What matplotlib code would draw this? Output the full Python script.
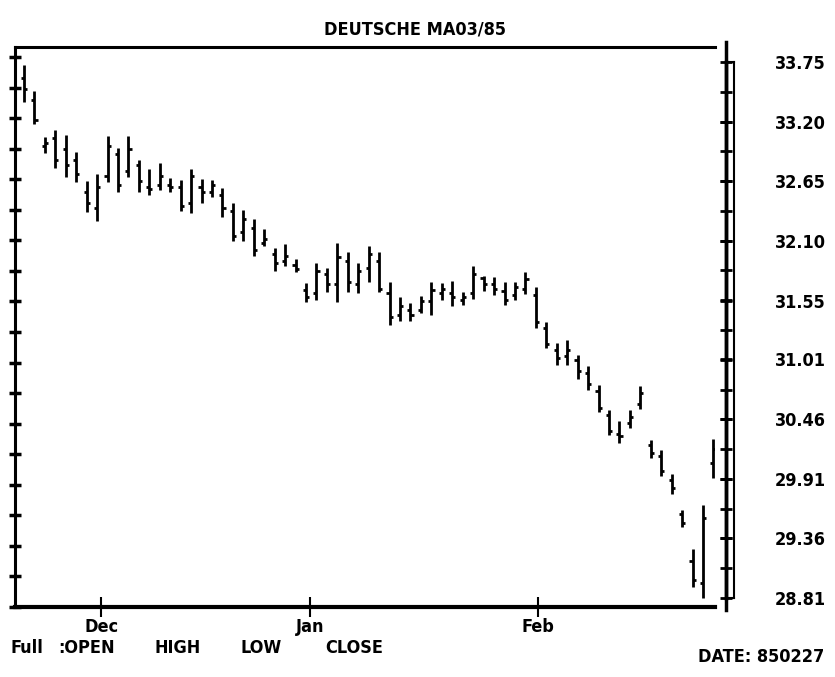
import numpy as np
import matplotlib
matplotlib.use("Agg")
import matplotlib.pyplot as plt
from matplotlib import font_manager as fm

# --- data ---
TITLE = "DEUTSCHE MA03/85"

highs = [33.72, 33.48, 33.06, 33.12, 33.08, 32.92, 32.65, 32.72, 33.07, 32.96,
         33.07, 32.85, 32.76, 32.82, 32.68, 32.66, 32.76, 32.67, 32.66, 32.59,
         32.45, 32.39, 32.30, 32.21, 32.04, 32.07, 31.93, 31.71, 31.90, 31.85,
         32.08, 32.00, 31.90, 32.05, 32.00, 31.72, 31.58, 31.53, 31.59, 31.72,
         31.71, 31.73, 31.63, 31.87, 31.78, 31.77, 31.72, 31.72, 31.81, 31.68,
         31.35, 31.16, 31.19, 31.05, 30.95, 30.77, 30.54, 30.44, 30.54, 30.76,
         30.27, 30.17, 29.95, 29.62, 29.26, 29.67, 30.28]
lows = [33.38, 33.18, 32.91, 32.77, 32.69, 32.64, 32.37, 32.28, 32.64, 32.55,
        32.69, 32.55, 32.52, 32.57, 32.55, 32.38, 32.36, 32.45, 32.51, 32.32,
        32.10, 32.10, 31.96, 32.05, 31.82, 31.87, 31.81, 31.54, 31.56, 31.63,
        31.54, 31.63, 31.62, 31.72, 31.63, 31.33, 31.36, 31.36, 31.44, 31.42,
        31.56, 31.50, 31.51, 31.57, 31.64, 31.60, 31.51, 31.56, 31.61, 31.30,
        31.11, 30.96, 30.96, 30.83, 30.73, 30.52, 30.31, 30.24, 30.38, 30.55,
        30.10, 29.93, 29.77, 29.46, 28.91, 28.81, 29.92]
opens = [33.60, 33.40, 32.98, 33.05, 32.95, 32.85, 32.55, 32.40, 32.70, 32.90,
         32.75, 32.80, 32.60, 32.62, 32.62, 32.60, 32.45, 32.60, 32.55, 32.52,
         32.38, 32.18, 32.22, 32.08, 31.98, 31.92, 31.88, 31.65, 31.62, 31.80,
         31.70, 31.92, 31.70, 31.85, 31.92, 31.62, 31.42, 31.46, 31.46, 31.55,
         31.62, 31.62, 31.56, 31.62, 31.76, 31.70, 31.64, 31.60, 31.66, 31.60,
         31.30, 31.10, 31.04, 31.00, 30.88, 30.72, 30.50, 30.32, 30.42, 30.60,
         30.22, 30.12, 29.90, 29.58, 29.15, 28.95, 30.05]
closes = [33.50, 33.22, 33.00, 32.85, 32.80, 32.72, 32.45, 32.60, 32.98, 32.62,
          32.95, 32.65, 32.58, 32.70, 32.60, 32.42, 32.70, 32.55, 32.62, 32.40,
          32.15, 32.30, 32.02, 32.12, 31.90, 31.96, 31.84, 31.58, 31.82, 31.70,
          31.95, 31.72, 31.82, 31.98, 31.66, 31.40, 31.50, 31.42, 31.55, 31.65,
          31.66, 31.58, 31.58, 31.80, 31.70, 31.66, 31.56, 31.68, 31.75, 31.35,
          31.15, 31.02, 31.10, 30.90, 30.78, 30.56, 30.35, 30.30, 30.48, 30.70,
          30.15, 29.98, 29.82, 29.50, 28.98, 29.55, 30.18]

month_labels = ["Dec", "Jan", "Feb"]
month_pos = [7.4, 27.4, 49.2]          # position in trading-day index

price_labels = ["33.75", "33.20", "32.65", "32.10", "31.55",
                "31.01", "30.46", "29.91", "29.36", "28.81"]

footer_left = ["Full", ":OPEN", "HIGH", "LOW", "CLOSE"]
footer_right = "DATE: 850227"

# --- layout helpers (pixel -> figure fraction) ---
W, H = 835, 677
def fx(px):
    return px / W
def fy(py):
    return 1 - py / H

# look for a narrow / condensed face, the screen font is tall and thin
def pick_font():
    narrow = []
    for f in fm.fontManager.ttflist:
        is_narrow = ('Narrow' in f.name or 'Condensed' in f.name
                     or f.stretch in ('condensed', 'semi-condensed',
                                      'extra-condensed', 'ultra-condensed'))
        if is_narrow:
            narrow.append(f)
    if not narrow:
        return None
    def score(f):
        w = f.weight if isinstance(f.weight, int) else 700 if f.weight == 'bold' else 400
        return (abs(w - 700), f.style != 'normal')
    narrow.sort(key=score)
    return narrow[0].fname

fname = pick_font()
if fname:
    FP = fm.FontProperties(fname=fname, size=13)
else:
    FP = fm.FontProperties(family='DejaVu Sans', weight='bold', size=11)

fig = plt.figure(figsize=(W / 100, H / 100), dpi=100)
fig.patch.set_facecolor('white')

p_top = float(price_labels[0])
p_bot = float(price_labels[-1])
per_px = (p_top - p_bot) / (598 - 62)

# main price panel
ax = fig.add_axes([fx(15), fy(607), fx(715) - fx(15), fy(47) - fy(607)])
ax.set_ylim(p_bot - (607 - 598) * per_px, p_top + (62 - 47) * per_px)
ax.set_xlim(-0.86, 66.15)

idx = np.arange(len(highs))
ax.vlines(idx, lows, highs, color='black', lw=2.0)
ax.hlines(opens, idx - 0.3, idx, color='black', lw=2.0)
ax.hlines(closes, idx, idx + 0.3, color='black', lw=2.0)

ax.spines['right'].set_visible(False)
ax.spines['top'].set_linewidth(2.2)
ax.spines['bottom'].set_linewidth(3.0)
ax.spines['left'].set_linewidth(2.2)

left_ticks = np.linspace(ax.get_ylim()[0], p_top + 5 * per_px - 0.0001, 19)
ax.set_yticks(left_ticks)
ax.set_yticklabels([])
ax.tick_params(axis='y', direction='inout', length=8, width=2.5)

ax.set_xticks(month_pos)
ax.set_xticklabels(month_labels, fontproperties=FP)
ax.tick_params(axis='x', direction='inout', length=14, width=1.5, pad=1)

# right price scale (double rail)
rax = fig.add_axes([fx(726), fy(598), fx(734) - fx(726), fy(62) - fy(598)])
rax.set_ylim(p_bot, p_top)
rax.set_xlim(0, 1)
rax.set_xticks([])
for s in rax.spines.values():
    s.set_linewidth(1.5)
rax.spines['left'].set_linewidth(2.5)
rax.plot([0, 0], [p_bot - 12 * per_px, p_top + 20 * per_px], color='black',
         lw=2.5, clip_on=False)
label_vals = [float(v) for v in price_labels]
rax.set_yticks(label_vals)
rax.set_yticklabels(price_labels, fontproperties=FP)
rax.set_yticks(np.linspace(p_bot, p_top, 19), minor=True)
rax.tick_params(axis='y', which='both', left=True, right=False,
                labelleft=False, labelright=True,
                direction='inout', length=9, width=2.0, pad=25)

# titles and footer
fig.text(fx(415), fy(30), TITLE, ha='center', va='center', fontproperties=FP)
foot_x = [10, 58, 155, 240, 325]
for txt, px in zip(footer_left, foot_x):
    fig.text(fx(px), fy(648), txt, ha='left', va='center', fontproperties=FP)
fig.text(fx(698), fy(657), footer_right, ha='left', va='center',
         fontproperties=FP)

fig.savefig("out.png", dpi=100)
